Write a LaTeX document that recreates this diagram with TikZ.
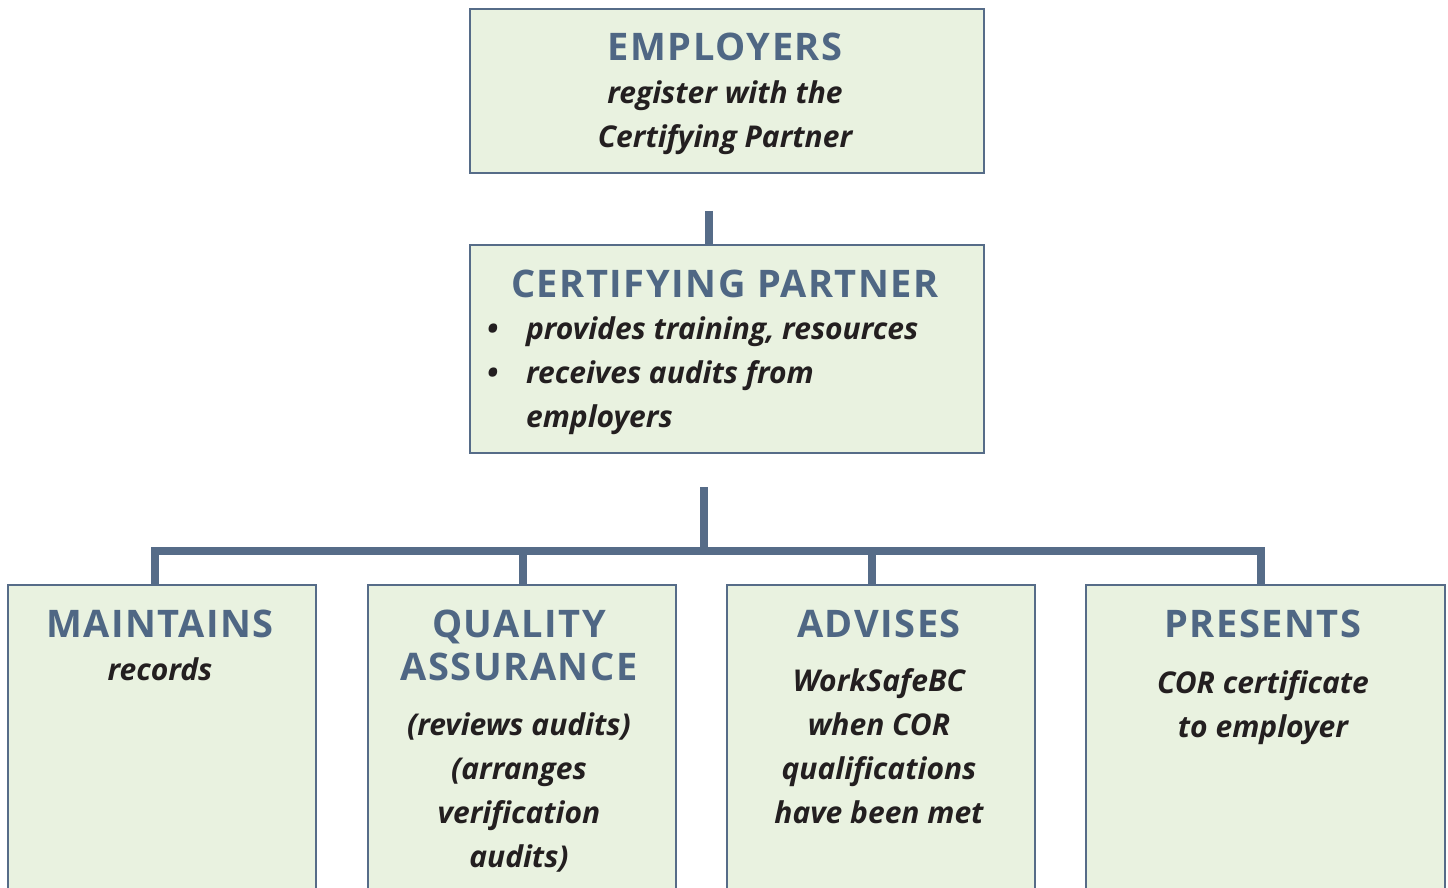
\documentclass[tikz,border=0pt]{standalone}
\usepackage{fontspec}
\setmainfont{Open Sans}
\newfontfamily\headfont[LetterSpace=4.0]{Open Sans}
\usetikzlibrary{positioning}
\definecolor{linecol}{HTML}{566C88}
\definecolor{headcol}{HTML}{4F6784}
\definecolor{boxcol}{HTML}{E9F2E0}
\definecolor{txtcol}{HTML}{231F20}

\begin{document}
\begin{tikzpicture}[x=0.5pt,y=-0.5pt,
  box/.style={draw=linecol,line width=1.25pt,fill=boxcol,inner sep=0pt},
  head/.style={anchor=base,text=headcol,align=center,
    font=\headfont\bfseries\fontsize{19}{21.5}\selectfont},
  body/.style={anchor=base,text=txtcol,align=center,
    font=\bfseries\itshape\fontsize{15}{22}\selectfont},
  link/.style={draw=linecol,line width=3.75pt}]
  \clip (0,0) rectangle (1448,888);

  % boxes
  \node[box,minimum width=257pt,minimum height=82pt] (emp) at (727,91) {};
  \node[box,minimum width=257pt,minimum height=104pt] (cp) at (727,349) {};
  \node[box,minimum width=154pt,minimum height=200pt] (keep) at (162,785) {};
  \node[box,minimum width=154pt,minimum height=200pt] (qa) at (522,785) {};
  \node[box,minimum width=154pt,minimum height=200pt] (adv) at (881,785) {};
  \node[box,minimum width=179.5pt,minimum height=200pt] (pres) at (1265.5,785) {};

  % connectors
  \coordinate (top) at (709,211);
  \draw[link] (top) -- (top |- cp.north);
  \coordinate (mid) at (704,487);
  \coordinate (bar) at (704,551);
  \draw[link] (mid) -- (bar);
  \draw[link] ([xshift=-3.5pt]keep.north) |- (bar) -| ([xshift=-2.25pt]pres.north);
  \draw[link] ([xshift=0.5pt]qa.north) -- ([xshift=0.5pt]qa.north |- bar);
  \draw[link] ([xshift=-4.5pt]adv.north) -- ([xshift=-4.5pt]adv.north |- bar);

  % texts (base of a multi-line node = its last line)
  \node[head] (emph) at (725,61) {EMPLOYERS};
  \node[body] (empb) at (725,148) {register with the\\Certifying Partner};

  \node[head] (cph) at (725,298) {CERTIFYING PARTNER};
  \node[body,anchor=base west,align=left] (cpb) at (519,427)
    {\llap{\textbullet\hspace{14pt}}provides training, resources\\
     \llap{\textbullet\hspace{14pt}}receives audits from\\employers};

  \node[head] (keeph) at (160,637) {MAINTAINS};
  \node[body] (keepb) at (160,680) {records};

  \node[head] (qah) at (519,680) {QUALITY\\ASSURANCE};
  \node[body] (qab) at (519,867) {(reviews audits)\\(arranges\\verification\\audits)};

  \node[head] (advh) at (879,637) {ADVISES};
  \node[body] (advb) at (879,823) {WorkSafeBC\\when COR\\qualifications\\have been met};

  \node[head] (presh) at (1263,637) {PRESENTS};
  \node[body] (presb) at (1263,737) {COR certificate\\to employer};
\end{tikzpicture}
\end{document}
